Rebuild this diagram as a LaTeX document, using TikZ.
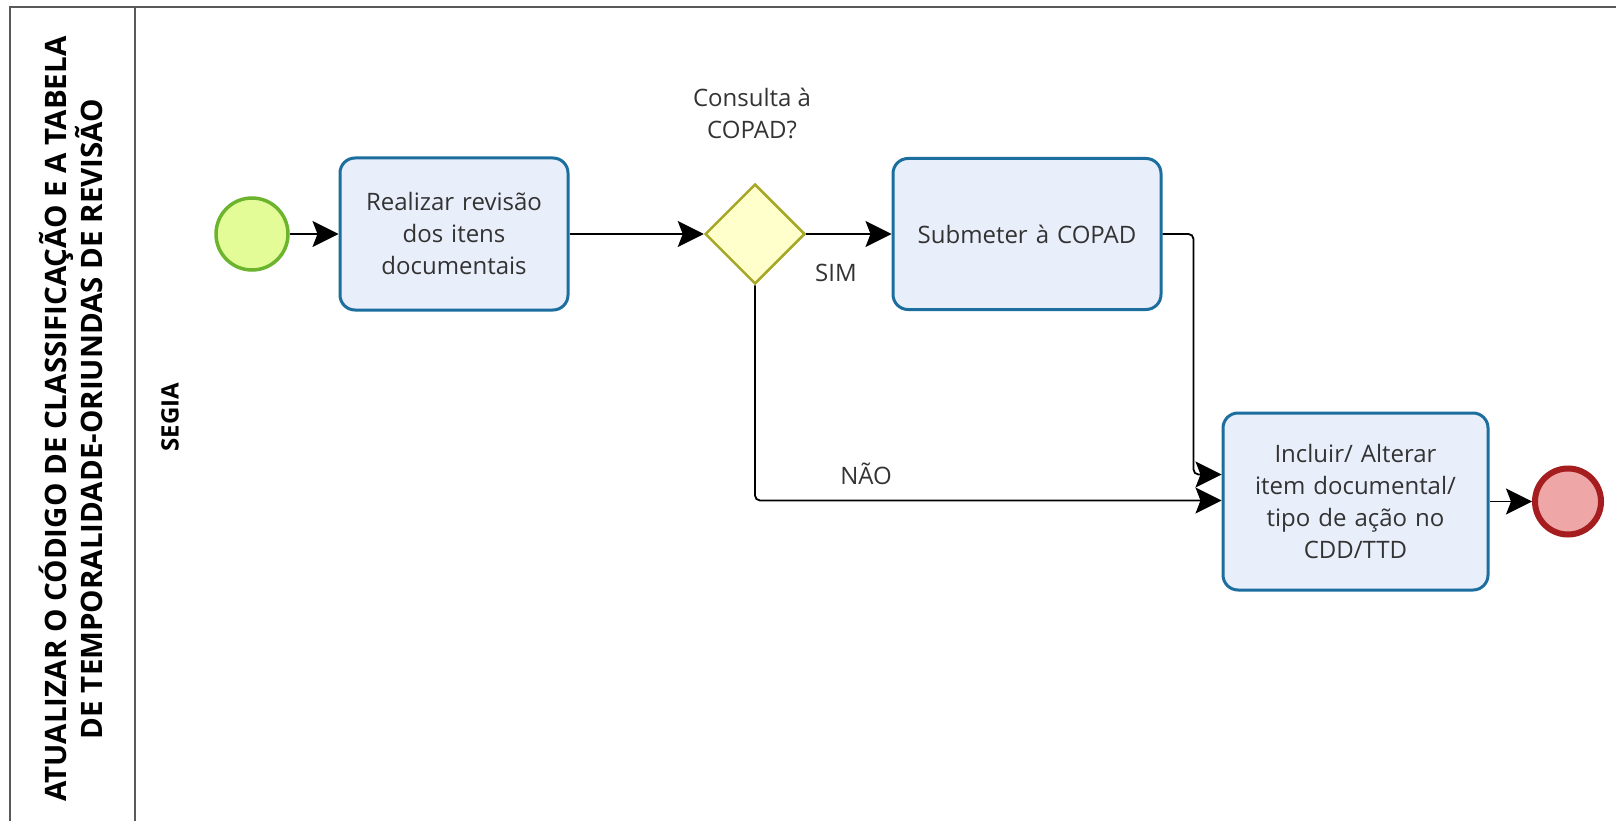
\documentclass[tikz,border=0pt]{standalone}
\usepackage{fontspec}
\setmainfont{Open Sans}
\usetikzlibrary{shapes.geometric,arrows.meta,calc}
\definecolor{taskfill}{HTML}{E9EEFB}
\definecolor{taskdraw}{HTML}{1B6E9E}
\definecolor{startfill}{HTML}{E4FC98}
\definecolor{startdraw}{HTML}{6DB42E}
\definecolor{gwfill}{HTML}{FFFFCC}
\definecolor{gwdraw}{HTML}{A8A828}
\definecolor{endfill}{HTML}{EEA6A6}
\definecolor{enddraw}{HTML}{A51D1F}
\definecolor{pooldraw}{HTML}{5A5A5A}
\definecolor{txt}{HTML}{333333}
\tikzset{
  x=1pt,y=-1pt,
  body/.style={font=\fontsize{24}{32}\selectfont, text=txt},
  task/.style={draw=taskdraw, fill=taskfill, line width=3pt, rounded corners=15pt,
     align=center, body, inner sep=4pt},
  startev/.style={circle, draw=startdraw, fill=startfill, line width=3.5pt, minimum size=72pt, inner sep=0pt},
  endev/.style={circle, draw=enddraw, fill=endfill, line width=6pt, minimum size=66pt, inner sep=0pt},
  gateway/.style={diamond, draw=gwdraw, fill=gwfill, line width=2.5pt, minimum width=100pt, minimum height=100pt, inner sep=0pt, aspect=1},
  flow/.style={line width=1.8pt, rounded corners=5pt, -{Stealth[length=26pt,width=26pt,inset=5pt]}},
  lbl/.style={body, align=center},
  pool/.style={draw=pooldraw, line width=2pt},
}
\begin{document}
\begin{tikzpicture}
\useasboundingbox (0,0) rectangle (1616,821);
% pool
\draw[pool] (10,830) -- (10,7) -- (1620,7);
\draw[pool] (135,7) -- (135,830);
\node[rotate=90, align=center, text=black, font=\fontsize{29.5}{36}\selectfont\bfseries] (title) at (71,419)
  {ATUALIZAR O CÓDIGO DE CLASSIFICAÇÃO E A TABELA\\DE TEMPORALIDADE-ORIUNDAS DE REVISÃO};
\node[rotate=90, text=black, font=\fontsize{24}{30}\selectfont\bfseries] (lane) at (170,417) {SEGIA};
% nodes
\node[startev] (start) at (252,234) {};
\node[task, minimum width=228pt, minimum height=152pt, text width=200pt] (t1) at (454,234)
  {Realizar revisão\\dos itens\\documentais};
\node[gateway] (gw) at (755,234) {};
\node[lbl] (q) at (752,113) {Consulta à\\COPAD?};
\node[task, minimum width=268pt, minimum height=151pt, text width=250pt] (t2) at (1027,234)
  {Submeter à COPAD};
\node[task, minimum width=265pt, minimum height=177pt, text width=240pt] (t3) at (1355.5,501.5)
  {Incluir/ Alterar\\item documental/\\tipo de ação no\\CDD/TTD};
\node[endev] (end) at (1568,501.5) {};
% flows
\draw[flow] (start) -- (t1);
\draw[flow] (t1) -- (gw);
\draw[flow] (gw) -- (t2);
\node[lbl] (sim) at (836,273) {SIM};
\coordinate (t3up) at ($(t3.west)+(0,-27)$);
\coordinate (t3lo) at ($(t3.west)+(0,-1)$);
\draw[flow] (t2.east) -- ++(31,0) |- (t3up);
\draw[flow] (gw.south) |- (t3lo);
\node[lbl] (nao) at (866,474) {NÃO};
\draw[flow] (t3) -- (end);
\end{tikzpicture}
\end{document}
